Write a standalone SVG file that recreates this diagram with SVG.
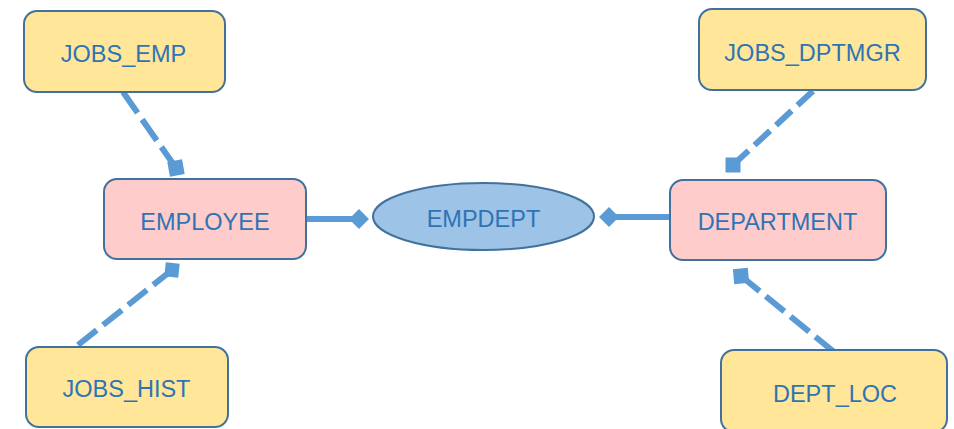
<svg xmlns="http://www.w3.org/2000/svg" width="954" height="429" viewBox="0 0 954 429">
  <style>
    .entity rect { stroke: #41719C; stroke-width: 2; }
    .job rect { fill: #FFE699; }
    .main rect { fill: #FFCCCC; }
    .rel ellipse { fill: #9DC3E6; stroke: #41719C; stroke-width: 2; }
    text { font-family: "Liberation Sans", Arial, sans-serif; font-size: 23.5px; fill: #2E74B5; text-anchor: middle; }
    .link { stroke: #5B9BD5; stroke-width: 6; fill: none; }
  </style>
  <defs>
    <!-- square ends, each drawn at a fixed tilt -->
    <marker id="sq-a" markerUnits="userSpaceOnUse" markerWidth="20" markerHeight="20" refX="10" refY="10" orient="-10">
      <rect x="2.5" y="2.5" width="15" height="15" fill="#5B9BD5"/>
    </marker>
    <marker id="sq-b" markerUnits="userSpaceOnUse" markerWidth="20" markerHeight="20" refX="10" refY="10" orient="6">
      <rect x="3" y="3" width="14" height="14" fill="#5B9BD5"/>
    </marker>
    <marker id="sq-c" markerUnits="userSpaceOnUse" markerWidth="20" markerHeight="20" refX="10" refY="10" orient="0">
      <rect x="2.5" y="2.5" width="15" height="15" fill="#5B9BD5"/>
    </marker>
    <marker id="sq-d" markerUnits="userSpaceOnUse" markerWidth="20" markerHeight="20" refX="10" refY="10" orient="-5">
      <rect x="2.5" y="2.5" width="15" height="15" fill="#5B9BD5"/>
    </marker>
    <marker id="dia" markerUnits="userSpaceOnUse" markerWidth="22" markerHeight="22" refX="11" refY="11" orient="auto">
      <polygon points="1,11 11,1 21,11 11,21" fill="#5B9BD5"/>
    </marker>
  </defs>

  <!-- connectors: dash lengths are fitted per link so a dash touches both ends -->
  <g id="connectors">
    <line class="link" stroke-dasharray="25.6 8" x1="176" y1="168" x2="123" y2="92" marker-start="url(#sq-a)"/>
    <line class="link" stroke-dasharray="24 8.1" x1="172" y1="270" x2="78" y2="345" marker-start="url(#sq-b)"/>
    <line class="link" stroke-dasharray="21.2 8.1" x1="733" y1="165" x2="813" y2="91" marker-start="url(#sq-c)"/>
    <line class="link" stroke-dasharray="24 8" x1="741" y1="276" x2="834" y2="352" marker-start="url(#sq-d)"/>
    <line class="link" x1="306" y1="219" x2="359" y2="219" marker-end="url(#dia)"/>
    <line class="link" x1="670" y1="217" x2="609" y2="217" marker-end="url(#dia)"/>
  </g>

  <g id="jobs_emp" class="entity job">
    <rect x="24" y="11" width="201" height="81" rx="13"/>
    <text x="123.5" y="62">JOBS_EMP</text>
  </g>
  <g id="employee" class="entity main">
    <rect x="104" y="179" width="202" height="80" rx="13"/>
    <text x="205" y="230">EMPLOYEE</text>
  </g>
  <g id="jobs_hist" class="entity job">
    <rect x="26" y="347" width="202" height="80" rx="13"/>
    <text x="126.5" y="397">JOBS_HIST</text>
  </g>
  <g id="empdept" class="rel">
    <ellipse cx="483.5" cy="216.5" rx="110.5" ry="33.5"/>
    <text x="483.5" y="227">EMPDEPT</text>
  </g>
  <g id="department" class="entity main">
    <rect x="670" y="180" width="216" height="80" rx="13"/>
    <text x="777.5" y="230">DEPARTMENT</text>
  </g>
  <g id="jobs_dptmgr" class="entity job">
    <rect x="699" y="9" width="227" height="81" rx="13"/>
    <text x="812.5" y="61">JOBS_DPTMGR</text>
  </g>
  <g id="dept_loc" class="entity job">
    <rect x="721" y="350" width="226" height="82" rx="13"/>
    <text x="835" y="402">DEPT_LOC</text>
  </g>
</svg>
